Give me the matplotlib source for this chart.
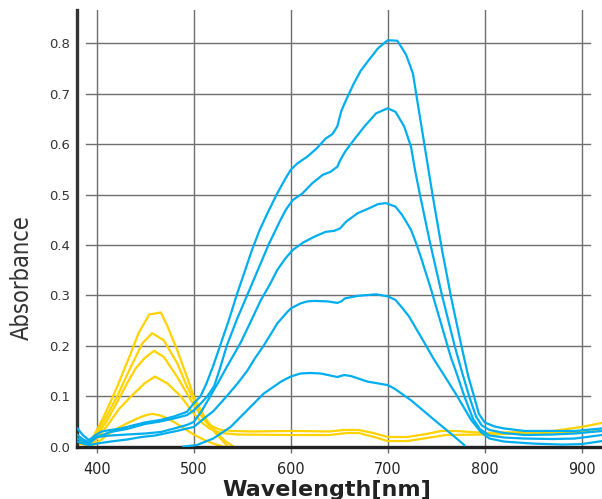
import matplotlib
matplotlib.use('Agg')
import matplotlib.pyplot as plt

# 파장 / 흡광도
wl_b1 = [380, 386, 392, 398, 405, 414, 425, 437, 450, 466, 480, 493, 500, 507, 513, 520, 528, 536, 545, 553,
         560, 568, 576, 586, 594, 600, 607, 617, 627, 636, 643, 648, 652, 656, 665, 672, 679, 690, 700, 710,
         719, 726, 731, 736, 746, 756, 766, 776, 783, 789, 794, 800, 810, 820, 841, 870, 893, 921]
ab_b1 = [0.036, 0.022, 0.013, 0.022, 0.030, 0.033, 0.036, 0.042, 0.048, 0.053, 0.060, 0.069, 0.086, 0.100,
         0.125, 0.160, 0.205, 0.250, 0.305, 0.350, 0.390, 0.430, 0.463, 0.502, 0.530, 0.549, 0.562, 0.575,
         0.592, 0.611, 0.620, 0.635, 0.665, 0.683, 0.720, 0.745, 0.763, 0.790, 0.806, 0.805, 0.777, 0.740,
         0.680, 0.621, 0.502, 0.390, 0.290, 0.200, 0.140, 0.100, 0.065, 0.048, 0.040, 0.036, 0.031, 0.031,
         0.031, 0.036]

wl_b2 = [380, 386, 392, 400, 414, 431, 450, 466, 480, 493, 500, 507, 514, 521, 527, 534, 545, 555, 566, 577,
         589, 595, 602, 612, 622, 633, 641, 648, 651, 656, 665, 676, 688, 700, 708, 717, 724, 728, 733, 743,
         756, 769, 777, 784, 791, 797, 805, 820, 841, 870, 893, 921]
ab_b2 = [0.016, 0.010, 0.006, 0.019, 0.029, 0.035, 0.045, 0.050, 0.056, 0.0625, 0.072, 0.085, 0.100, 0.120,
         0.155, 0.200, 0.255, 0.300, 0.350, 0.400, 0.448, 0.470, 0.489, 0.502, 0.522, 0.539, 0.545, 0.555,
         0.568, 0.585, 0.608, 0.635, 0.661, 0.671, 0.664, 0.635, 0.595, 0.550, 0.502, 0.410, 0.300, 0.200,
         0.145, 0.100, 0.060, 0.042, 0.033, 0.027, 0.023, 0.024, 0.026, 0.031]

wl_b3 = [380, 386, 392, 400, 414, 431, 450, 466, 480, 493, 500, 508, 517, 526, 534, 548, 558, 569, 578, 586,
         594, 602, 613, 624, 636, 645, 651, 657, 669, 680, 690, 698, 708, 715, 724, 729, 734, 745, 755, 765,
         772, 779, 788, 795, 805, 820, 841, 870, 893, 921]
ab_b3 = [0.023, 0.014, 0.009, 0.019, 0.022, 0.024, 0.026, 0.029, 0.036, 0.043, 0.049, 0.070, 0.100, 0.130,
         0.158, 0.205, 0.245, 0.290, 0.320, 0.350, 0.372, 0.390, 0.405, 0.416, 0.426, 0.428, 0.433, 0.446,
         0.463, 0.472, 0.481, 0.483, 0.476, 0.459, 0.430, 0.405, 0.377, 0.310, 0.244, 0.178, 0.140, 0.100,
         0.055, 0.035, 0.022, 0.018, 0.016, 0.015, 0.016, 0.023]

wl_b4 = [380, 386, 392, 400, 414, 431, 446, 460, 480, 500, 510, 520, 534, 545, 555, 563, 572, 580, 586, 595,
         600, 610, 617, 624, 638, 648, 652, 656, 669, 688, 700, 708, 715, 722, 736, 748, 758, 772, 786, 796,
         805, 820, 850, 880, 900, 921]
ab_b4 = [0.010, 0.006, 0.003, 0.006, 0.010, 0.014, 0.019, 0.022, 0.030, 0.039, 0.055, 0.070, 0.100, 0.125,
         0.150, 0.175, 0.200, 0.225, 0.244, 0.264, 0.274, 0.284, 0.288, 0.289, 0.288, 0.285, 0.288, 0.294,
         0.299, 0.302, 0.298, 0.291, 0.275, 0.258, 0.212, 0.172, 0.142, 0.099, 0.053, 0.029, 0.016, 0.010,
         0.006, 0.004, 0.005, 0.011]

wl_b5 = [489, 503, 520, 538, 555, 572, 590, 600, 610, 620, 631, 648, 655, 662, 679, 700, 707, 724, 748, 765, 779]
ab_b5 = [0.000, 0.003, 0.016, 0.039, 0.072, 0.105, 0.129, 0.139, 0.145, 0.146, 0.145, 0.138, 0.142, 0.140,
         0.129, 0.122, 0.115, 0.092, 0.053, 0.026, 0.003]

wl_y1 = [380, 386, 392, 400, 407, 414, 421, 428, 435, 443, 449, 454, 466, 473, 483, 493, 500, 511, 518, 524, 533, 541]
ab_y1 = [0.012, 0.006, 0.004, 0.033, 0.059, 0.088, 0.119, 0.152, 0.185, 0.225, 0.245, 0.262, 0.266, 0.238,
         0.191, 0.138, 0.099, 0.059, 0.040, 0.026, 0.010, 0.000]

wl_y2 = [380, 387, 393, 400, 410, 421, 435, 447, 457, 469, 483, 493, 504, 512, 520, 528, 535]
ab_y2 = [0.018, 0.010, 0.004, 0.028, 0.060, 0.100, 0.158, 0.205, 0.225, 0.211, 0.165, 0.119, 0.079, 0.052,
         0.032, 0.015, 0.000]

wl_y3 = [380, 388, 394, 400, 410, 420, 431, 440, 449, 459, 469, 483, 497, 505, 512, 520, 528, 540, 560, 600,
         640, 655, 670, 685, 700, 720, 740, 755, 770, 800, 840, 870, 900, 921]
ab_y3 = [0.010, 0.004, 0.002, 0.022, 0.050, 0.085, 0.125, 0.155, 0.175, 0.190, 0.178, 0.138, 0.092, 0.068,
         0.050, 0.039, 0.033, 0.031, 0.030, 0.031, 0.030, 0.033, 0.033, 0.027, 0.019, 0.019, 0.025, 0.031,
         0.031, 0.027, 0.029, 0.031, 0.039, 0.047]

wl_y4 = [380, 388, 395, 402, 412, 423, 435, 449, 460, 473, 487, 498, 508, 517, 528, 545, 600, 640, 658, 670,
         688, 700, 720, 740, 760, 800, 840, 880, 900, 921]
ab_y4 = [0.020, 0.008, 0.004, 0.020, 0.045, 0.075, 0.099, 0.125, 0.139, 0.125, 0.099, 0.070, 0.048, 0.035,
         0.027, 0.024, 0.023, 0.023, 0.027, 0.027, 0.018, 0.011, 0.011, 0.017, 0.023, 0.024, 0.026, 0.028,
         0.029, 0.031]

wl_y5 = [380, 392, 398, 404, 412, 421, 430, 442, 450, 457, 465, 473, 482, 490, 500, 511, 520, 530]
ab_y5 = [0.006, 0.003, 0.005, 0.013, 0.025, 0.036, 0.045, 0.056, 0.062, 0.065, 0.062, 0.056, 0.046, 0.036,
         0.024, 0.013, 0.006, 0.000]

x_ticks = [400, 500, 600, 700, 800, 900]
y_ticks = [0.0, 0.1, 0.2, 0.3, 0.4, 0.5, 0.6, 0.7, 0.8]

blue = '#00AEEF'
yellow = '#FFD200'
grid_c = '#6e6e6e'

fig = plt.figure(figsize=(6.02, 4.99), dpi=100)
ax = fig.add_axes([0.128, 0.105, 0.872, 0.875])

# 노란 곡선
for wl, ab in [(wl_y1, ab_y1), (wl_y2, ab_y2), (wl_y3, ab_y3), (wl_y4, ab_y4), (wl_y5, ab_y5)]:
    ax.plot(wl, ab, color=yellow, lw=1.6, zorder=2)
# 파란 곡선
for wl, ab in [(wl_b1, ab_b1), (wl_b2, ab_b2), (wl_b3, ab_b3), (wl_b4, ab_b4), (wl_b5, ab_b5)]:
    ax.plot(wl, ab, color=blue, lw=1.6, zorder=3)

ax.set_xlim(379.6, 921)
ax.set_ylim(0, 0.866)

# 격자
for y in y_ticks[1:]:
    ax.axhline(y, xmin=0.017, xmax=0.977, color=grid_c, lw=1.0, zorder=1)
ax.set_xticks(x_ticks)
ax.grid(axis='x', color=grid_c, lw=1.0, zorder=1)
ax.set_axisbelow(True)

ax.set_yticks(y_ticks)
ax.set_yticklabels(['%.1f' % v for v in y_ticks], fontsize=9.5, color='#333333', family='DejaVu Sans')
ax.set_xticklabels([str(v) for v in x_ticks], fontsize=11.5, color='#222222',
                   family='DejaVu Sans', fontstretch='condensed')
ax.tick_params(axis='y', length=0, pad=5)
ax.tick_params(axis='x', length=4, width=1.0, color=grid_c, pad=7)

for s in ['top', 'right']:
    ax.spines[s].set_visible(False)
ax.spines['left'].set_linewidth(2.4)
ax.spines['left'].set_color('#333333')
ax.spines['bottom'].set_linewidth(2.4)
ax.spines['bottom'].set_color('#222222')

# 축 제목
fig.text(0.036, 0.443, 'Absorbance', rotation=90, ha='center', va='center', fontsize=17,
         color='#333333', family='DejaVu Sans', fontstretch='condensed')
fig.text(0.543, 0.006, 'Wavelength[nm]', ha='center', va='baseline', fontsize=16,
         fontweight='bold', color='#222222', family='DejaVu Sans')

fig.savefig('out.png', dpi=100)
